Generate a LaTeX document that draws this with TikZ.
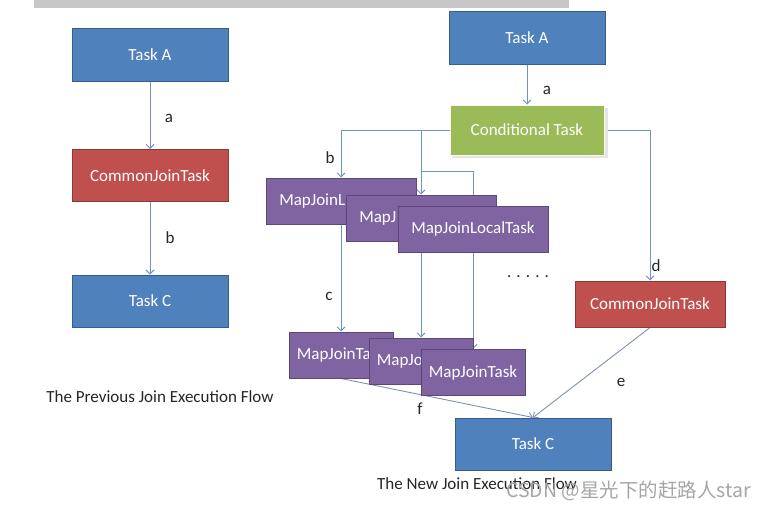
\documentclass[tikz,border=0pt]{standalone}
\usepackage{fontspec}
\setmainfont{Carlito}
\newfontfamily\cjk{Noto Sans CJK SC}
\usetikzlibrary{arrows.meta,calc}
\definecolor{bfill}{HTML}{4F81BD}
\definecolor{bdraw}{HTML}{385D8A}
\definecolor{rfill}{HTML}{C0504D}
\definecolor{rdraw}{HTML}{8C3836}
\definecolor{gfill}{HTML}{9BBB59}
\definecolor{pfill}{HTML}{8064A2}
\definecolor{pdraw}{HTML}{5C4776}
\definecolor{conn}{RGB}{112,146,196}
\definecolor{conng}{RGB}{128,145,175}
\tikzset{
  box/.style={rectangle, inner sep=0pt, text=white, font=\fontsize{17}{20}\selectfont, line width=1pt},
  bluebox/.style={box, fill=bfill, draw=bdraw, minimum width=156pt, minimum height=52pt},
  redbox/.style={box, fill=rfill, draw=rdraw, minimum width=156pt, minimum height=52pt},
  greenbox/.style={box, fill=gfill, draw=white!90!gfill, minimum width=154pt, minimum height=50pt},
  localbox/.style={box, fill=pfill, draw=pdraw, minimum width=150pt, minimum height=46pt},
  mjbox/.style={box, fill=pfill, draw=pdraw, minimum width=104pt, minimum height=46pt},
  cjbox/.style={box, fill=rfill, draw=rdraw, minimum width=150pt, minimum height=46pt},
  conline/.style={draw=conn, line width=0.9pt, -{Straight Barb[length=4pt,width=8pt,line width=0.9pt]}},
  lbl/.style={inner sep=0pt, font=\fontsize{17}{20}\selectfont, text=black!85},
  title/.style={inner sep=0pt, font=\fontsize{17}{20}\selectfont, text=black!85},
}
\begin{document}
\begin{tikzpicture}[x=1pt,y=-1pt]
\useasboundingbox (0,0) rectangle (767,511);
\fill[white] (0,0) rectangle (767,511);
\fill[black!22] (34,0) rectangle (569,8);

% ---------- left flow ----------
\node[bluebox] (lA) at (150,55) {Task A};
\node[redbox] (lCJ) at (150,175.5) {CommonJoinTask};
\node[bluebox] (lC) at (150,301) {Task C};
\draw[conline] (lA.south) -- (lCJ.north);
\draw[conline] (lCJ.south) -- (lC.north);
\node[lbl] (la) at (169,118) {a};
\node[lbl] (lb) at (170,238) {b};
\node[title] (ltitle) at (160,397) {The Previous Join Execution Flow};

% ---------- right flow: nodes positions ----------
\coordinate (pA) at (527,38);
\coordinate (pCond) at (527,130);
\coordinate (pML1) at (341,201);
\coordinate (pML2) at (421,218);
\coordinate (pML3) at (473,229);
\coordinate (pMJ1) at (341,355);
\coordinate (pMJ2) at (421,361);
\coordinate (pMJ3) at (473,372.5);
\coordinate (pCJ) at (650,304);
\coordinate (pC) at (533,444);

% invisible placeholders to route connectors beneath boxes
\path node[bluebox, draw=none, fill=none] (rA) at (pA) {}
      node[greenbox, draw=none, fill=none] (cond) at (pCond) {}
      node[localbox, draw=none, fill=none] (ml1) at (pML1) {}
      node[localbox, draw=none, fill=none] (ml2) at (pML2) {}
      node[localbox, draw=none, fill=none] (ml3) at (pML3) {}
      node[mjbox, draw=none, fill=none] (mj1) at (pMJ1) {}
      node[mjbox, draw=none, fill=none] (mj2) at (pMJ2) {}
      node[mjbox, draw=none, fill=none] (mj3) at (pMJ3) {}
      node[cjbox, draw=none, fill=none] (rcj) at (pCJ) {}
      node[bluebox, draw=none, fill=none] (rC) at (pC) {};

% connectors (drawn first so boxes cover them)
\draw[conline] (rA.south) -- (cond.north);
\draw[conline] (cond.west) -| (ml1.north);
\draw[conline] (cond.west) -| (ml2.north);
\coordinate (br) at ($(ml2.north)+(0,-23)$);
\draw[conline] (br) -| (ml3.north);
\draw[conline] (cond.east) -| (rcj.north);
\draw[conline] (ml1.south) -- (mj1.north);
\draw[conline] (ml2.south) -- (mj2.north);
\draw[conline] (ml3.south) -- (mj3.north);
\draw[conline, draw=conng] (rcj.south) -- (rC.north);
\draw[conline, draw=conng] (mj1.south) -- (rC.north);

% boxes
\fill[black!10] ($(cond.south west)+(2,2)$) rectangle ($(cond.north east)+(3,3)$);
\node[bluebox] (rAbox) at (pA) {Task A};
\node[greenbox] (condbox) at (pCond) {Conditional Task};
\node[localbox] (ml1box) at (pML1) {\rlap{MapJoinL}\phantom{MapJoinLocalTask}};
\node[localbox] (ml2box) at (pML2) {\rlap{MapJ}\phantom{MapJoinLocalTask}};
\node[localbox] (ml3box) at (pML3) {MapJoinLocalTask};
\node[mjbox] (mj1box) at (pMJ1) {\rlap{MapJoinTa}\phantom{MapJoinTask}};
\node[mjbox] (mj2box) at (pMJ2) {\rlap{MapJo}\phantom{MapJoinTask}};
\node[mjbox] (mj3box) at (pMJ3) {MapJoinTask};
\node[cjbox] (rcjbox) at (pCJ) {CommonJoinTask};
\node[bluebox] (rCbox) at (pC) {Task C};

% labels
\node[lbl] (ra) at (547,90) {a};
\node[lbl] (rb) at (330,158) {b};
\node[lbl] (rc) at (329,296) {c};
\node[lbl] (rd) at (656,266) {d};
\node[lbl] (re) at (621,382) {e};
\node[lbl] (rf) at (420,409) {f};
\node[lbl, anchor=base] (dots) at (528,277) {. . . . .};
\node[title] (rtitle) at (477,484) {The New Join Execution Flow};
\node[inner sep=0pt, anchor=west, text=black!35, font=\cjk\fontsize{19.5}{22}\selectfont] (wm) at (506,491) {CSDN @星光下的赶路人star};
\end{tikzpicture}
\end{document}
